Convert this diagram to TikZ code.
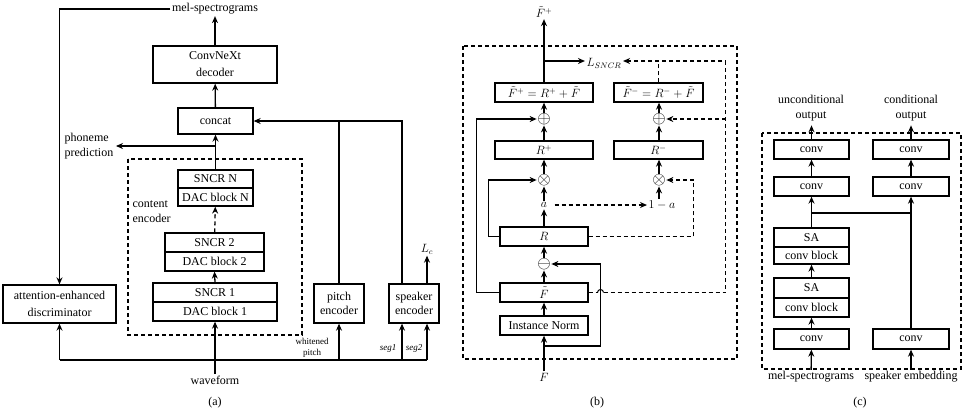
\documentclass[tikz,border=0pt]{standalone}
\usepackage{fontspec}
\setmainfont{Liberation Serif}
\usetikzlibrary{arrows.meta,calc}
\begin{document}
\begin{tikzpicture}[x=1pt,y=-1pt, line width=1.3pt,
 arr/.style={-{Stealth[length=7pt,width=6pt]}},
 bx/.style={draw,rectangle,inner sep=0pt,align=center,font=\fontsize{12}{14}\selectfont},
 lbl/.style={inner sep=1pt,align=center,font=\fontsize{12}{15}\selectfont},
 sm/.style={inner sep=1pt,align=center,font=\fontsize{9}{11}\selectfont},
 op/.style={inner sep=0pt,font=\fontsize{17}{17}\selectfont},
 dsh/.style={dash pattern=on 4pt off 3pt}
]
\useasboundingbox (0,0) rectangle (963,413);
% ---------- panel (a)
\node[lbl] (mel) at (215,9) {mel-spectrograms};
\node[bx,minimum width=124pt,minimum height=37pt] (dec) at (215,64.5) {ConvNeXt\\[3pt]decoder};
\node[bx,minimum width=75pt,minimum height=26pt] (concat) at (215.5,121) {concat};
\node[bx,minimum width=75pt,minimum height=18pt] (sncrN) at (215.5,179) {SNCR N};
\node[bx,minimum width=75pt,minimum height=18pt] (dacN) at (215.5,197) {DAC block N};
\node[bx,minimum width=99pt,minimum height=19pt] (sncr2) at (214.5,242.5) {SNCR 2};
\node[bx,minimum width=99pt,minimum height=19pt] (dac2) at (214.5,261.5) {DAC block 2};
\node[bx,minimum width=124pt,minimum height=19pt] (sncr1) at (215,292.5) {SNCR 1};
\node[bx,minimum width=124pt,minimum height=19pt] (dac1) at (215,311.5) {DAC block 1};
\draw[dsh] (128,159) rectangle (302,335);
\node[lbl,align=left,anchor=west] (ce) at (131,212) {content\\encoder};
\node[lbl,align=left] (ph) at (89,146) {phoneme\\prediction};
\node[bx,minimum width=113pt,minimum height=38pt] (disc) at (59.5,304) {attention-enhanced\\[3pt]discriminator};
\node[lbl] (wave) at (215,380) {waveform};
\node[bx,minimum width=50pt,minimum height=39pt] (pitch) at (339,303.5) {pitch\\encoder};
\node[bx,minimum width=50pt,minimum height=39pt] (spk) at (414,303.5) {speaker\\encoder};
\node[lbl] (Lc) at (427,249) {$L_c$};
\node[sm] (wp) at (312,348) {whitened\\pitch};
\node[sm,font=\fontsize{9}{11}\selectfont\itshape] (s1) at (388,348) {seg1};
\node[sm,font=\fontsize{9}{11}\selectfont\itshape] (s2) at (414,348) {seg2};
\node[lbl] (capa) at (215,403) {(a)};
\draw[arr] (dec) -- (mel);
\draw[arr] (mel.west) -| (disc.north);
\draw[arr] (concat) -- (dec);
\draw[arr] (sncrN) -- (concat);
\coordinate (pb) at (215.5,146);
\draw[arr] (pb) -- ($(ph.east |- pb)+(1,0)$);
\draw[arr,dsh] (sncr2) -- (dacN);
\draw[arr] (sncr1.north) -- (dac2.south);
\draw[arr] (wave) -- (dac1);
\coordinate (wL) at (59.5,360);
\coordinate (wR) at (427,360);
\coordinate (s1b) at (402,360);
\draw (wL) -- (wR);
\draw[arr] (wL) -- (disc.south);
\draw[arr] (pitch.south |- wL) -- (pitch.south);
\draw[arr] (s1b) -- (s1b |- spk.south);
\draw[arr] (wR) -- (wR |- spk.south);
\coordinate (cj) at (402,121);
\draw (pitch.north) -- (pitch.north |- cj);
\draw[arr] (spk.north -| cj) -- (cj) -- (concat.east);
\draw[arr] (spk.north -| wR) -- (Lc);
% ---------- panel (b)
\node[lbl] (Fp) at (544,12) {$\tilde F^{+}$};
\draw[dsh] (463,46) rectangle (737,359);
\node[lbl] (Ls) at (604,63) {$L_{SNCR}$};
\node[bx,minimum width=98pt,minimum height=19pt] (fpb) at (544,92.5) {$\tilde F^{+}=R^{+}+\tilde F$};
\node[bx,minimum width=89pt,minimum height=19pt] (fmb) at (658.5,92.5) {$\tilde F^{-}=R^{-}+\tilde F$};
\node[op] (op1) at (544,119) {$\oplus$};
\node[op] (op2) at (659,119) {$\oplus$};
\node[bx,minimum width=98pt,minimum height=18pt] (Rp) at (544,150) {$R^{+}$};
\node[bx,minimum width=89pt,minimum height=18pt] (Rm) at (658.5,150) {$R^{-}$};
\node[op] (ot1) at (544,180) {$\otimes$};
\node[op] (ot2) at (659,180) {$\otimes$};
\node[lbl] (a) at (544,205) {$a$};
\node[lbl] (oma) at (662,205) {$1-a$};
\node[bx,minimum width=88pt,minimum height=19pt] (R) at (544,236.5) {\large $R$};
\node[op] (om) at (544,264) {$\ominus$};
\node[bx,minimum width=88pt,minimum height=19pt] (Ft) at (544,292.5) {$\tilde F$};
\node[bx,minimum width=88pt,minimum height=19pt] (IN) at (544,325.5) {Instance Norm};
\node[lbl] (F) at (544,377) {$F$};
\node[lbl] (capb) at (597,403) {(b)};
\draw[arr] (F) -- (IN);
\draw[arr] (IN) -- (Ft);
\draw[arr] (Ft) -- (om);
\draw[arr] (om) -- (R);
\draw[arr] (R) -- (a);
\draw[arr] (a) -- (ot1);
\draw[arr] (ot1) -- (Rp);
\draw[arr] (Rp) -- (op1);
\draw[arr] (op1) -- (fpb);
\draw[arr] (fpb) -- (Fp);
\coordinate (fb) at (544,346);
\draw[arr] (fb) -- (600.5,346) -- (600.5,264) -- (om.east);
\draw[arr] (Ft.west) -- (476.5,292.5) -- (476.5,119) -- (op1.west);
\draw[arr] (R.west) -- (488.5,236.5) -- (488.5,180) -- (ot1.west);
\coordinate (lj) at (544,61);
\draw[arr] (lj) -- (lj -| Ls.west);
\draw[dsh] (Ft.east) -- (597.5,292.5);
\draw[line width=1pt] (597.5,292.5) arc[start angle=180,end angle=360,radius=3];
\draw[arr,dsh] (603.5,292.5) -- (725.5,292.5) -- (725.5,61) -- (lj -| Ls.east);
\coordinate (rj) at (725.5,119);
\draw[arr,dsh] (rj) -- (op2.east);
\draw[dsh] (fmb.north) -- (fmb.north |- lj);
\draw[arr,dsh] (R.east) -- (693.5,236.5) -- (693.5,180) -- (ot2.east);
\draw[arr,dsh,shorten <=6pt] (a.east) -- (oma.west);
\draw[arr] (oma.north -| ot2) -- (ot2);
\draw[arr] (ot2) -- (ot2 |- Rm.south);
\draw[arr] (Rm.north -| op2) -- (op2);
\draw[arr] (op2) -- (op2 |- fmb.south);
% ---------- panel (c)
\node[lbl] (unc) at (811,108) {unconditional\\output};
\node[lbl] (con) at (911,108) {conditional\\output};
\draw[dsh] (762,133) rectangle (961,369);
\node[bx,minimum width=75pt,minimum height=19pt] (c1L) at (811.5,149.5) {conv};
\node[bx,minimum width=76pt,minimum height=19pt] (c1R) at (911,149.5) {conv};
\node[bx,minimum width=75pt,minimum height=19pt] (c2L) at (811.5,186.5) {conv};
\node[bx,minimum width=76pt,minimum height=19pt] (c2R) at (911,186.5) {conv};
\node[bx,minimum width=75pt,minimum height=19pt] (sa1) at (811.5,237.5) {SA};
\node[bx,minimum width=75pt,minimum height=17pt] (cb1) at (811.5,255.5) {conv block};
\node[bx,minimum width=75pt,minimum height=20pt] (sa2) at (811.5,288) {SA};
\node[bx,minimum width=75pt,minimum height=19pt] (cb2) at (811.5,307.5) {conv block};
\node[bx,minimum width=75pt,minimum height=20pt] (c3L) at (811.5,339) {conv};
\node[bx,minimum width=76pt,minimum height=20pt] (c3R) at (911,339) {conv};
\node[lbl] (mel2) at (811,377) {mel-spectrograms};
\node[lbl] (spe) at (911,377) {speaker embedding};
\node[lbl] (capc) at (860,403) {(c)};
\draw[arr] (mel2) -- (c3L);
\draw[arr] (spe) -- (c3R);
\draw[arr] (c3L) -- (cb2);
\draw[arr] (sa2) -- (cb1);
\coordinate (jL) at (811.5,213);
\coordinate (jR) at (911,213);
\draw (sa1.north) -- (jL) -- (jR);
\draw[arr] (jL) -- (c2L.south);
\draw[arr] (c3R) -- (c2R);
\draw[arr] (c2L) -- (c1L);
\draw[arr] (c2R) -- (c1R);
\draw[arr] (c1L.north) -- ++(0,-14);
\draw[arr] (c1R.north) -- ++(0,-14);
\end{tikzpicture}
\end{document}
